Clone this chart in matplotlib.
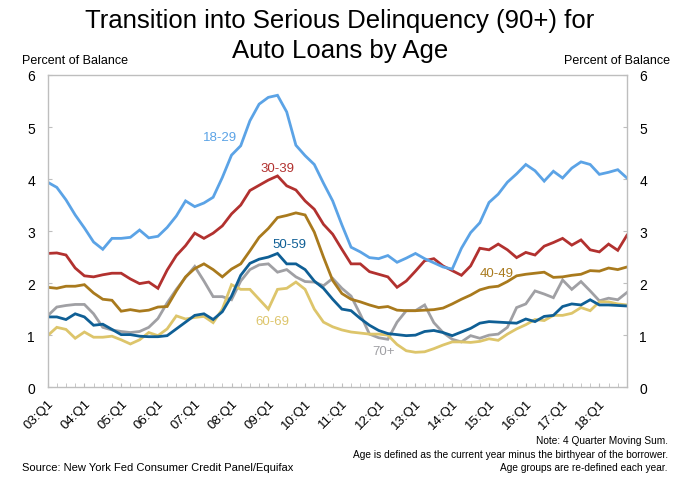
import matplotlib
matplotlib.use("Agg")
import matplotlib.pyplot as plt
from matplotlib.ticker import MultipleLocator

plt.rcParams['font.family'] = ['Liberation Sans', 'DejaVu Sans']

# quarterly points, 2003Q1 .. 2018Q4
years = list(range(3, 19))
quarters = ['%02d:Q%d' % (y, q) for y in years for q in range(1, 5)]

age_18_29 = [3.94, 3.84, 3.60, 3.31, 3.06, 2.79, 2.65, 2.86, 2.86, 2.88, 3.02, 2.87, 2.90, 3.07, 3.29, 3.58,
             3.47, 3.54, 3.65, 4.03, 4.46, 4.64, 5.12, 5.44, 5.57, 5.61, 5.29, 4.65, 4.45, 4.28, 3.92, 3.58,
             3.12, 2.69, 2.60, 2.49, 2.47, 2.53, 2.40, 2.48, 2.57, 2.47, 2.39, 2.31, 2.27, 2.67, 2.97, 3.16,
             3.55, 3.71, 3.94, 4.10, 4.28, 4.16, 3.96, 4.15, 4.02, 4.21, 4.33, 4.28, 4.09, 4.13, 4.18, 4.02]
age_30_39 = [2.57, 2.58, 2.54, 2.29, 2.14, 2.12, 2.16, 2.19, 2.19, 2.08, 1.99, 2.02, 1.90, 2.25, 2.53, 2.72,
             2.96, 2.86, 2.96, 3.10, 3.33, 3.50, 3.78, 3.88, 3.98, 4.06, 3.87, 3.79, 3.58, 3.42, 3.13, 2.94,
             2.65, 2.37, 2.37, 2.22, 2.17, 2.12, 1.92, 2.04, 2.23, 2.43, 2.47, 2.33, 2.24, 2.15, 2.33, 2.67,
             2.64, 2.75, 2.64, 2.49, 2.59, 2.54, 2.71, 2.78, 2.86, 2.73, 2.83, 2.64, 2.60, 2.75, 2.63, 2.92]
age_40_49 = [1.92, 1.90, 1.94, 1.94, 1.97, 1.81, 1.69, 1.67, 1.46, 1.49, 1.46, 1.48, 1.54, 1.55, 1.85, 2.12,
             2.28, 2.37, 2.26, 2.12, 2.27, 2.37, 2.62, 2.88, 3.05, 3.26, 3.30, 3.35, 3.31, 2.98, 2.50, 2.05,
             1.80, 1.69, 1.64, 1.58, 1.53, 1.55, 1.48, 1.47, 1.47, 1.48, 1.49, 1.52, 1.60, 1.69, 1.77, 1.87,
             1.92, 1.94, 2.03, 2.14, 2.17, 2.19, 2.21, 2.11, 2.12, 2.15, 2.17, 2.24, 2.23, 2.29, 2.26, 2.31]
age_50_59 = [1.35, 1.35, 1.30, 1.41, 1.35, 1.19, 1.21, 1.11, 1.01, 1.01, 0.98, 0.97, 0.97, 0.99, 1.12, 1.25,
             1.38, 1.41, 1.30, 1.45, 1.75, 2.15, 2.38, 2.46, 2.50, 2.57, 2.37, 2.37, 2.26, 2.04, 1.90, 1.69,
             1.50, 1.47, 1.32, 1.19, 1.09, 1.03, 1.01, 0.99, 1.00, 1.07, 1.09, 1.05, 0.99, 1.06, 1.13, 1.23,
             1.26, 1.25, 1.24, 1.23, 1.31, 1.26, 1.36, 1.38, 1.55, 1.60, 1.58, 1.68, 1.58, 1.58, 1.57, 1.56]
age_60_69 = [0.99, 1.15, 1.11, 0.94, 1.06, 0.96, 0.96, 0.98, 0.91, 0.83, 0.91, 1.05, 0.99, 1.12, 1.37, 1.31,
             1.34, 1.36, 1.24, 1.50, 1.97, 1.88, 1.88, 1.69, 1.50, 1.88, 1.90, 2.02, 1.88, 1.50, 1.25, 1.16,
             1.10, 1.06, 1.04, 1.02, 1.02, 1.00, 0.82, 0.70, 0.67, 0.68, 0.74, 0.81, 0.87, 0.87, 0.86, 0.88,
             0.93, 0.90, 1.02, 1.12, 1.20, 1.30, 1.28, 1.38, 1.38, 1.42, 1.53, 1.47, 1.64, 1.64, 1.60, 1.58]
age_70_up = [1.37, 1.54, 1.57, 1.59, 1.59, 1.41, 1.15, 1.10, 1.07, 1.05, 1.07, 1.15, 1.32, 1.62, 1.88, 2.11,
             2.32, 2.04, 1.74, 1.74, 1.68, 2.04, 2.26, 2.35, 2.37, 2.21, 2.26, 2.12, 2.03, 2.02, 1.95, 2.09,
             1.90, 1.75, 1.40, 1.02, 0.95, 0.92, 1.25, 1.47, 1.47, 1.58, 1.24, 1.05, 0.92, 0.87, 0.99, 0.94,
             1.00, 1.02, 1.15, 1.53, 1.60, 1.85, 1.79, 1.72, 2.06, 1.88, 2.03, 1.85, 1.66, 1.71, 1.68, 1.82]

series = [
    ('18-29', age_18_29, '#5BA3E6', (18.7, 4.80)),
    ('30-39', age_30_39, '#B2312F', (25.0, 4.22)),
    ('40-49', age_40_49, '#A97A1D', (48.8, 2.20)),
    ('50-59', age_50_59, '#0F5F95', (26.3, 2.75)),
    ('60-69', age_60_69, '#DDC56B', (24.4, 1.27)),
    ('70+', age_70_up, '#A0A0A4', (36.5, 0.69)),
]
# draw order, back to front
order = ['70+', '60-69', '50-59', '40-49', '30-39', '18-29']

fig = plt.figure(figsize=(6.8, 4.81), dpi=100)
ax = fig.add_axes([0.070, 0.193, 0.852, 0.649])

x = list(range(len(quarters)))
lookup = {s[0]: s for s in series}
for name in order:
    label, vals, color, pos = lookup[name]
    ax.plot(x, vals, color=color, lw=2.0, solid_joinstyle='miter')
    ax.text(pos[0], pos[1], label, color=color, fontsize=9.5, ha='center', va='center')

ax.set_xlim(0, len(quarters) - 1)
ax.set_ylim(0, 6)

grey = '#BEBEBE'
for sp in ax.spines.values():
    sp.set_color(grey)
    sp.set_linewidth(1.0)

ax.set_xticks(x[::4])
ax.set_xticklabels(quarters[::4], rotation=45, ha='right', va='top',
                   rotation_mode='anchor', fontsize=9.5)
ax.xaxis.set_minor_locator(MultipleLocator(1))
ax.tick_params(axis='x', which='both', direction='in', length=3, color=grey, pad=7)
ax.tick_params(axis='y', which='both', direction='in', length=3, color=grey,
               labelsize=10, left=True, right=True, labelleft=True, labelright=True, pad=9)
ax.set_yticks(range(7))

fig.text(0.5, 0.957, 'Transition into Serious Delinquency (90+) for',
         ha='center', va='center', fontsize=18.5)
fig.text(0.5, 0.893, 'Auto Loans by Age', ha='center', va='center', fontsize=18.5)
fig.text(0.032, 0.874, 'Percent of Balance', ha='left', va='center', fontsize=9)
fig.text(0.985, 0.874, 'Percent of Balance', ha='right', va='center', fontsize=9)

fig.text(0.982, 0.083, 'Note: 4 Quarter Moving Sum.', ha='right', va='center', fontsize=7.3)
fig.text(0.982, 0.054, 'Age is defined as the current year minus the birthyear of the borrower.',
         ha='right', va='center', fontsize=7.3)
fig.text(0.982, 0.027, 'Age groups are re-defined each year.', ha='right', va='center', fontsize=7.3)
fig.text(0.032, 0.027, 'Source: New York Fed Consumer Credit Panel/Equifax',
         ha='left', va='center', fontsize=8)

fig.savefig('out.png', dpi=100)
